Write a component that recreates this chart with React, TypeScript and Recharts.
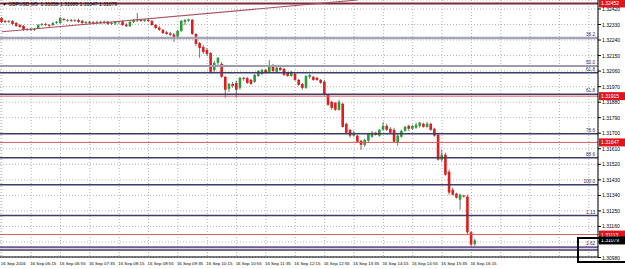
import { ComposedChart, Bar, XAxis, YAxis, CartesianGrid, ReferenceLine } from 'recharts';

const symbol = 'GBPUSD,M5';

// axis labels
const timeLabels = [
  '16 Sep 2016', '16 Sep 06:15', '16 Sep 06:55', '16 Sep 07:35', '16 Sep 08:15', '16 Sep 08:55',
  '16 Sep 09:35', '16 Sep 10:15', '16 Sep 10:55', '16 Sep 11:35', '16 Sep 12:15', '16 Sep 12:55',
  '16 Sep 13:35', '16 Sep 14:15', '16 Sep 14:55', '16 Sep 15:35', '16 Sep 16:15',
];
const priceTicks = [
  1.3098, 1.3107, 1.3116, 1.3125, 1.3134, 1.3143, 1.3152, 1.3161, 1.317,
  1.3179, 1.3188, 1.3197, 1.3206, 1.3215, 1.3224, 1.3233, 1.3242,
];

// M5 candles
const open = [
  1.32368, 1.32351, 1.32345, 1.32351, 1.32339, 1.32327, 1.32322, 1.32299, 1.32304, 1.32299,
  1.3231, 1.32327, 1.32333, 1.32327, 1.32327, 1.32339, 1.32339, 1.32362, 1.32351, 1.32356,
  1.32351, 1.32356, 1.32351, 1.32339, 1.32345, 1.32343, 1.32338, 1.32346, 1.3234, 1.32347,
  1.32333, 1.32336, 1.32343, 1.32348, 1.3233, 1.3232, 1.32345, 1.32352, 1.32358, 1.32351,
  1.32357, 1.3235, 1.32327, 1.32312, 1.32299, 1.32285, 1.32279, 1.32272, 1.3226, 1.32293,
  1.32345, 1.32352, 1.32358, 1.32275, 1.32223, 1.322, 1.32183, 1.32165, 1.32067, 1.32108,
  1.32102, 1.32027, 1.31957, 1.31986, 1.31992, 1.31963, 1.32021, 1.32019, 1.32009, 1.31998,
  1.32032, 1.32044, 1.32067, 1.32056, 1.3209, 1.32056, 1.32079, 1.32073, 1.3205, 1.32032,
  1.32044, 1.32009, 1.31986, 1.31963, 1.32027, 1.32027, 1.32021, 1.32009, 1.31998, 1.31923,
  1.31882, 1.31876, 1.31836, 1.31871, 1.31755, 1.3172, 1.31686, 1.31686, 1.31657, 1.31633,
  1.31657, 1.3168, 1.31703, 1.31686, 1.3172, 1.31743, 1.31726, 1.3172, 1.31645, 1.3168,
  1.31714, 1.31743, 1.31726, 1.31732, 1.31743, 1.31755, 1.31737, 1.31755, 1.31726, 1.31691,
  1.31547, 1.31576, 1.31477, 1.31373, 1.3135, 1.31315, 1.31339, 1.31333, 1.31126, 1.31058,
];
const high = [
  1.32374, 1.32356, 1.32356, 1.32356, 1.32345, 1.32333, 1.32327, 1.3231, 1.3231, 1.3231,
  1.32333, 1.32339, 1.32339, 1.32333, 1.32345, 1.32351, 1.32374, 1.32368, 1.32362, 1.32362,
  1.32362, 1.32362, 1.32356, 1.32351, 1.32351, 1.3235, 1.32351, 1.32352, 1.32352, 1.32351,
  1.32345, 1.32351, 1.32351, 1.32353, 1.32339, 1.32351, 1.32362, 1.32397, 1.32362, 1.32362,
  1.32364, 1.32356, 1.32333, 1.32322, 1.32304, 1.32293, 1.32287, 1.32281, 1.32299, 1.32356,
  1.32362, 1.32364, 1.32362, 1.32281, 1.32229, 1.32212, 1.32194, 1.32171, 1.32119, 1.32142,
  1.32113, 1.32032, 1.31992, 1.31998, 1.32004, 1.32027, 1.32027, 1.32027, 1.32015, 1.32044,
  1.32067, 1.32073, 1.32073, 1.32125, 1.32102, 1.3209, 1.32085, 1.32079, 1.32056, 1.32061,
  1.3205, 1.32015, 1.31992, 1.32038, 1.32044, 1.32032, 1.32027, 1.32015, 1.32009, 1.31928,
  1.31888, 1.31882, 1.31894, 1.31876, 1.31761, 1.31726, 1.31714, 1.31691, 1.31662, 1.31668,
  1.31703, 1.31714, 1.31709, 1.31726, 1.31766, 1.31755, 1.31737, 1.31732, 1.31697, 1.3172,
  1.31743, 1.31749, 1.31749, 1.31761, 1.31766, 1.31761, 1.31766, 1.31761, 1.31732, 1.31697,
  1.31604, 1.31587, 1.31489, 1.31385, 1.31356, 1.3135, 1.31344, 1.31344, 1.31132, 1.31088,
];
const low = [
  1.32339, 1.32339, 1.32339, 1.32327, 1.32316, 1.3231, 1.32293, 1.32293, 1.32293, 1.32293,
  1.32304, 1.32322, 1.32322, 1.32316, 1.32322, 1.32333, 1.32333, 1.32351, 1.32345, 1.32345,
  1.32345, 1.32339, 1.32333, 1.32333, 1.32333, 1.32334, 1.32333, 1.32334, 1.32333, 1.32327,
  1.32327, 1.32327, 1.32333, 1.32322, 1.32316, 1.32316, 1.32339, 1.32345, 1.32345, 1.32345,
  1.32345, 1.32322, 1.32304, 1.32293, 1.32275, 1.3227, 1.32264, 1.32229, 1.32258, 1.32287,
  1.32327, 1.32345, 1.3227, 1.32206, 1.32137, 1.3216, 1.32148, 1.32044, 1.32056, 1.32096,
  1.32021, 1.31905, 1.3194, 1.31963, 1.31905, 1.31952, 1.32004, 1.31986, 1.3198, 1.31992,
  1.32027, 1.32038, 1.32044, 1.3205, 1.32056, 1.3205, 1.32061, 1.32032, 1.32027, 1.32027,
  1.32004, 1.31975, 1.31952, 1.31957, 1.32015, 1.32004, 1.32004, 1.31986, 1.31917, 1.31859,
  1.31836, 1.3183, 1.3183, 1.31732, 1.31697, 1.31674, 1.3168, 1.31645, 1.31604, 1.31622,
  1.31645, 1.31674, 1.31686, 1.3168, 1.31714, 1.31714, 1.31697, 1.31645, 1.31628, 1.31674,
  1.31709, 1.31714, 1.3172, 1.31726, 1.31732, 1.31732, 1.31732, 1.31714, 1.3168, 1.31541,
  1.31535, 1.31454, 1.31344, 1.31339, 1.31321, 1.31257, 1.31327, 1.31114, 1.31043, 1.31047,
];
const close = [
  1.32345, 1.32345, 1.32351, 1.32333, 1.32322, 1.32316, 1.32299, 1.32304, 1.32299, 1.32304,
  1.32327, 1.32333, 1.32327, 1.32322, 1.32339, 1.32345, 1.32368, 1.32356, 1.32356, 1.32351,
  1.32356, 1.32345, 1.32339, 1.32345, 1.32339, 1.32338, 1.32346, 1.3234, 1.32347, 1.32333,
  1.32339, 1.32345, 1.32348, 1.32327, 1.3232, 1.32345, 1.32356, 1.32358, 1.32351, 1.32357,
  1.3235, 1.32327, 1.3231, 1.32299, 1.32281, 1.32275, 1.3227, 1.32258, 1.32293, 1.32351,
  1.32356, 1.3236, 1.32275, 1.32218, 1.32194, 1.32171, 1.3216, 1.32056, 1.32108, 1.32137,
  1.32027, 1.31952, 1.31986, 1.31975, 1.31952, 1.32021, 1.32015, 1.31992, 1.31986, 1.32038,
  1.32061, 1.32067, 1.3205, 1.32096, 1.32061, 1.32079, 1.32067, 1.32038, 1.32032, 1.32056,
  1.32009, 1.3198, 1.31963, 1.32032, 1.32038, 1.32009, 1.32009, 1.31992, 1.31923, 1.31865,
  1.31847, 1.31836, 1.31882, 1.31737, 1.31703, 1.31686, 1.31703, 1.31651, 1.31633, 1.31662,
  1.31697, 1.31703, 1.31691, 1.3172, 1.31743, 1.3172, 1.31703, 1.31651, 1.31686, 1.31714,
  1.31737, 1.31726, 1.31743, 1.31749, 1.31761, 1.31737, 1.31755, 1.3172, 1.31686, 1.31547,
  1.31576, 1.3146, 1.31356, 1.31344, 1.31327, 1.31344, 1.31333, 1.31126, 1.31055, 1.31079,
];

// drawn objects
const fibPrices = [1.32252, 1.3209, 1.3205, 1.31926, 1.31697, 1.31558, 1.31402, 1.31223, 1.3104];
const fibNames = ['38.2', '50.0', '61.8', '61.8', '78.6', '88.6', '100.0', '1.13', '1.62'];
const alertPrices = [1.32452, 1.31915, 1.31647, 1.31113];
const extraLines = [1.31024];
const trendBars = [0, 97];
const trendPrices = [1.32288, 1.32472];

const SLOTS = 163; // bars + MT4 chart shift
const BULL = '#2c9c38';
const BEAR = '#e01c1c';
const WICK = '#505050';
const FONT = 'Liberation Sans, Arial, sans-serif';
const fibColor = ['#a4a4b8', '#9c9cae', '#3c3c64', '#3c3c64', '#3c3c64', '#3c3c64', '#3c3c64', '#3c3c64', '#74568a'];
const fibWidth = [2.5, 2, 1.5, 1.5, 1.5, 1.5, 1.5, 1.5, 2];

const rows = Array.from({ length: SLOTS }, (_, i) =>
  i < open.length
    ? { i, open: open[i], high: high[i], low: low[i], close: close[i], range: [low[i], high[i]] }
    : { i },
);

const last = open.length - 1;
const tagPrices = [...alertPrices, close[last]];

function Candle(props: any) {
  const { x, width, payload } = props;
  let { y, height } = props;
  if (payload == null || payload.high == null) return null;
  if (height < 0) {
    y += height;
    height = -height;
  }
  const span = payload.high - payload.low;
  const k = span > 0 ? height / span : 0;
  const cx = x + width / 2;
  const top = y + (payload.high - Math.max(payload.open, payload.close)) * k;
  const bot = y + (payload.high - Math.min(payload.open, payload.close)) * k;
  const up = payload.close >= payload.open;
  return (
    <g>
      <line x1={cx} x2={cx} y1={y} y2={y + height} stroke={WICK} strokeWidth={0.8} />
      <rect x={cx - 1.3} y={top} width={2.6} height={Math.max(bot - top, 0.8)} fill={up ? BULL : BEAR} />
    </g>
  );
}

function TimeTick({ x, y, payload }: any) {
  const label = timeLabels[payload.value / 8];
  if (!label) return null;
  return (
    <text x={x - 1} y={y + 3.5} fontSize={4.4} fontFamily={FONT} fill="#000" textAnchor="start">
      {label}
    </text>
  );
}

function PriceTick({ x, y, payload }: any) {
  // labels hidden behind a price tag are not drawn
  if (tagPrices.some((t) => Math.abs(t - payload.value) < 0.00025)) return null;
  return (
    <text x={x} y={y + 2} fontSize={5} fontFamily={FONT} fill="#000" textAnchor="start">
      {payload.value.toFixed(5)}
    </text>
  );
}

function FibLabel({ viewBox, name }: any) {
  if (!viewBox) return null;
  return (
    <text
      x={viewBox.x + viewBox.width - 3}
      y={viewBox.y - 2}
      fontSize={4.6}
      fontFamily={FONT}
      fill="#2a2a66"
      textAnchor="end"
    >
      {name}
    </text>
  );
}

function PriceTag({ viewBox, value, bg }: any) {
  if (!viewBox) return null;
  const x = viewBox.x + viewBox.width + 1;
  const y = viewBox.y;
  return (
    <g>
      <rect x={x} y={y - 4} width={27} height={8} fill={bg} />
      <text x={x + 2} y={y + 2} fontSize={5} fontFamily={FONT} fill="#fff">
        {value.toFixed(5)}
      </text>
    </g>
  );
}

export default function App() {
  const header = `\u25BC ${symbol}  ${open[last].toFixed(5)} ${high[last].toFixed(5)} ${low[last].toFixed(5)} ${close[last].toFixed(5)}`;
  return (
    <div style={{ position: 'absolute', left: 0, top: 0, width: 625, height: 269, background: '#fff' }}>
      <ComposedChart width={625} height={269} data={rows} margin={{ top: 0, right: 0, bottom: 0, left: 0 }}>
        <CartesianGrid stroke="#b4b4b4" strokeDasharray="1 2" />
        <XAxis
          dataKey="i"
          type="category"
          interval={7}
          height={12}
          tickSize={2}
          tickMargin={2}
          tick={<TimeTick />}
          tickLine={false}
          axisLine={{ stroke: '#000' }}
        />
        <YAxis
          orientation="right"
          width={27}
          type="number"
          domain={[1.30983, 1.32472]}
          allowDataOverflow
          ticks={priceTicks}
          interval={0}
          tickSize={3}
          tickMargin={1}
          tick={<PriceTick />}
          tickLine={{ stroke: '#000' }}
          axisLine={{ stroke: '#000' }}
        />
        {fibPrices.map((p, n) => (
          <ReferenceLine
            key={`fib${n}`}
            y={p}
            stroke={fibColor[n]}
            strokeWidth={fibWidth[n]}
            label={<FibLabel name={fibNames[n]} />}
          />
        ))}
        {extraLines.map((p, n) => (
          <ReferenceLine key={`ex${n}`} y={p} stroke="#3c3c64" strokeWidth={1.5} />
        ))}
        {alertPrices.map((p, n) => (
          <ReferenceLine
            key={`al${n}`}
            y={p}
            stroke={n === 0 ? '#7a2a36' : '#d85a5a'}
            strokeWidth={n === 0 ? 2 : 1}
            label={<PriceTag value={p} bg="#e0141c" />}
          />
        ))}
        <ReferenceLine
          segment={[
            { x: trendBars[0], y: trendPrices[0] },
            { x: trendBars[1], y: trendPrices[1] },
          ]}
          stroke="#a85464"
          strokeWidth={1.2}
        />
        <ReferenceLine
          y={close[last]}
          stroke="none"
          label={<PriceTag value={close[last]} bg="#000" />}
        />
        <Bar dataKey="range" barSize={3} shape={<Candle />} isAnimationActive={false} />
      </ComposedChart>
      <div
        style={{
          position: 'absolute',
          left: 2,
          top: 1,
          fontSize: 5,
          fontFamily: FONT,
          color: '#000',
          whiteSpace: 'pre',
        }}
      >
        {header}
      </div>
      <div
        style={{
          position: 'absolute',
          left: 577,
          top: 237,
          width: 60,
          height: 22,
          border: '2px solid #000',
        }}
      />
    </div>
  );
}
